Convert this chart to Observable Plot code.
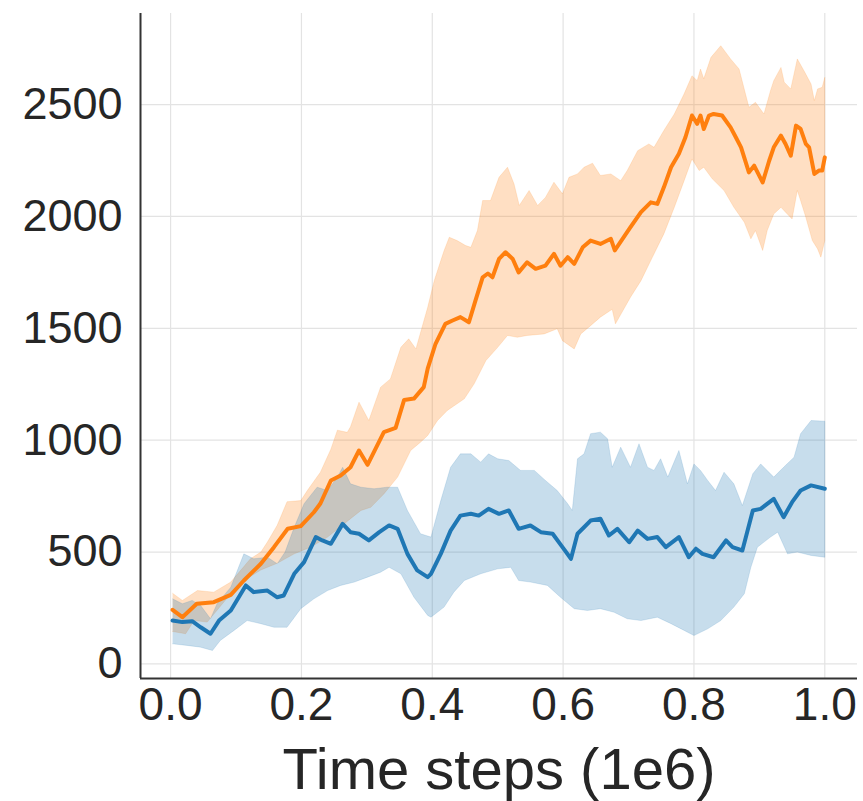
<!DOCTYPE html>
<html>
<head>
<meta charset="utf-8">
<script src="https://cdn.jsdelivr.net/npm/d3@7"></script>
<script src="https://cdn.jsdelivr.net/npm/@observablehq/plot@0.6"></script>
<style>
  html, body { margin: 0; padding: 0; background: #fff; }
  #chart svg { display: block; }
</style>
</head>
<body>
<div id="chart"></div>
<script>
// ---- data ----
const xTicks = [0, 0.2, 0.4, 0.6, 0.8, 1.0];
const yTicks = [0, 500, 1000, 1500, 2000, 2500];
const xLabel = "Time steps (1e6)";

const orangeMean = [[0.003,242],[0.018,209],[0.04,269],[0.066,276],[0.092,309],[0.112,373],[0.138,448],[0.158,522],[0.179,604],[0.199,616],[0.219,678],[0.229,717],[0.245,820],[0.26,842],[0.275,879],[0.288,954],[0.301,890],[0.326,1036],[0.344,1055],[0.357,1180],[0.372,1186],[0.387,1237],[0.393,1320],[0.405,1431],[0.42,1520],[0.431,1535],[0.443,1550],[0.456,1527],[0.466,1624],[0.477,1728],[0.485,1745],[0.492,1728],[0.502,1810],[0.512,1840],[0.523,1810],[0.532,1750],[0.545,1795],[0.558,1766],[0.573,1780],[0.586,1833],[0.596,1780],[0.607,1818],[0.617,1788],[0.63,1862],[0.642,1892],[0.657,1877],[0.673,1900],[0.679,1848],[0.703,1952],[0.719,2019],[0.734,2063],[0.744,2056],[0.754,2130],[0.765,2220],[0.777,2280],[0.787,2354],[0.797,2451],[0.805,2414],[0.81,2451],[0.815,2391],[0.823,2451],[0.83,2458],[0.843,2451],[0.856,2398],[0.864,2354],[0.872,2309],[0.884,2197],[0.892,2227],[0.905,2152],[0.915,2249],[0.922,2309],[0.933,2361],[0.94,2324],[0.948,2272],[0.956,2406],[0.963,2391],[0.971,2324],[0.976,2309],[0.984,2190],[0.991,2205],[0.996,2205],[1.0,2264]];

const orangeHigh = [[0.003,316],[0.018,284],[0.041,328],[0.066,321],[0.092,366],[0.122,470],[0.138,500],[0.148,545],[0.163,620],[0.178,725],[0.199,730],[0.209,775],[0.229,857],[0.245,960],[0.255,1045],[0.27,1035],[0.275,1060],[0.288,1170],[0.303,1088],[0.321,1237],[0.336,1274],[0.352,1415],[0.364,1453],[0.375,1408],[0.393,1594],[0.403,1713],[0.418,1847],[0.426,1907],[0.438,1892],[0.451,1870],[0.459,1862],[0.469,1937],[0.477,2071],[0.489,2071],[0.502,2175],[0.515,2220],[0.525,2145],[0.533,2049],[0.548,2116],[0.561,2049],[0.573,2085],[0.586,2153],[0.599,2101],[0.609,2175],[0.622,2190],[0.632,2220],[0.645,2238],[0.657,2183],[0.673,2190],[0.688,2160],[0.698,2205],[0.714,2294],[0.731,2324],[0.739,2309],[0.754,2384],[0.77,2458],[0.785,2548],[0.797,2629],[0.805,2607],[0.81,2659],[0.815,2615],[0.826,2711],[0.841,2763],[0.856,2704],[0.869,2659],[0.884,2488],[0.894,2510],[0.907,2458],[0.917,2562],[0.922,2607],[0.933,2666],[0.938,2600],[0.948,2570],[0.958,2704],[0.968,2652],[0.979,2592],[0.984,2518],[0.989,2570],[0.996,2577],[1.0,2622]];

const orangeLow = [[0.003,145],[0.023,135],[0.036,194],[0.056,187],[0.071,240],[0.092,314],[0.112,373],[0.138,420],[0.163,450],[0.189,492],[0.214,522],[0.24,567],[0.265,626],[0.291,686],[0.306,700],[0.326,760],[0.347,835],[0.367,954],[0.382,991],[0.393,1021],[0.408,1088],[0.423,1133],[0.449,1185],[0.464,1252],[0.482,1356],[0.5,1415],[0.515,1468],[0.53,1460],[0.545,1468],[0.571,1475],[0.591,1498],[0.599,1445],[0.617,1408],[0.627,1475],[0.642,1512],[0.657,1550],[0.675,1585],[0.68,1520],[0.703,1639],[0.719,1713],[0.734,1803],[0.754,1922],[0.77,2041],[0.785,2160],[0.797,2257],[0.808,2205],[0.815,2220],[0.828,2168],[0.846,2116],[0.861,2041],[0.877,1974],[0.887,1900],[0.894,1937],[0.905,1848],[0.912,1937],[0.922,2011],[0.933,2041],[0.94,2019],[0.95,1989],[0.958,2116],[0.963,2071],[0.971,1996],[0.981,1892],[0.989,1855],[0.994,1818],[1.0,1892]];

const blueMean = [[0.003,194],[0.018,187],[0.033,191],[0.046,164],[0.061,135],[0.074,194],[0.092,239],[0.115,351],[0.127,321],[0.148,328],[0.163,298],[0.173,306],[0.189,403],[0.204,455],[0.222,567],[0.232,552],[0.245,537],[0.263,626],[0.275,589],[0.288,582],[0.303,552],[0.319,589],[0.334,619],[0.347,604],[0.362,492],[0.377,418],[0.393,388],[0.398,403],[0.413,492],[0.428,596],[0.443,663],[0.459,671],[0.471,663],[0.486,693],[0.502,671],[0.517,686],[0.532,604],[0.55,619],[0.566,589],[0.584,582],[0.599,522],[0.612,470],[0.622,582],[0.632,611],[0.642,641],[0.657,649],[0.67,574],[0.683,604],[0.701,544],[0.714,596],[0.729,559],[0.744,567],[0.757,522],[0.777,567],[0.792,477],[0.803,515],[0.813,492],[0.83,477],[0.849,552],[0.859,522],[0.874,507],[0.89,686],[0.902,693],[0.922,738],[0.937,656],[0.95,723],[0.963,775],[0.979,798],[1.0,783]];

const blueHigh = [[0.003,291],[0.018,269],[0.033,284],[0.046,261],[0.061,202],[0.071,269],[0.092,343],[0.112,492],[0.127,470],[0.148,477],[0.163,448],[0.175,500],[0.189,611],[0.204,716],[0.224,790],[0.24,775],[0.255,835],[0.263,879],[0.275,805],[0.291,790],[0.311,783],[0.331,790],[0.347,790],[0.362,686],[0.382,582],[0.398,567],[0.413,730],[0.428,879],[0.443,939],[0.459,939],[0.474,902],[0.486,939],[0.5,917],[0.517,909],[0.535,865],[0.556,865],[0.573,820],[0.591,775],[0.607,716],[0.614,686],[0.622,917],[0.632,939],[0.642,1029],[0.657,1036],[0.668,1006],[0.675,879],[0.688,969],[0.703,879],[0.716,984],[0.729,879],[0.739,865],[0.749,917],[0.76,835],[0.777,954],[0.79,805],[0.8,894],[0.81,865],[0.821,820],[0.833,775],[0.846,857],[0.861,805],[0.874,708],[0.89,850],[0.902,894],[0.922,835],[0.937,879],[0.953,924],[0.963,1029],[0.979,1088],[1.0,1085]];

const blueLow = [[0.003,90],[0.025,83],[0.046,75],[0.064,60],[0.076,105],[0.097,150],[0.117,194],[0.138,180],[0.158,164],[0.178,164],[0.199,247],[0.219,291],[0.24,328],[0.26,351],[0.281,366],[0.301,388],[0.321,410],[0.334,432],[0.352,403],[0.372,298],[0.393,217],[0.398,209],[0.418,254],[0.433,321],[0.449,373],[0.474,403],[0.5,425],[0.52,432],[0.532,373],[0.55,366],[0.576,351],[0.596,298],[0.617,247],[0.637,239],[0.657,247],[0.678,231],[0.698,202],[0.719,194],[0.744,209],[0.765,180],[0.785,150],[0.8,127],[0.821,157],[0.841,194],[0.861,254],[0.877,314],[0.887,432],[0.897,522],[0.917,567],[0.928,589],[0.943,492],[0.958,500],[0.979,485],[1.0,477]];

const xDomain = [-0.046, 1.05];
const yDomain = [-65, 2907];
const ORANGE = "#ff7f0e";
const BLUE = "#1f77b4";

// band polygon: upper edge forward, lower edge backward
const band = (hi, lo) => hi.concat(lo.slice().reverse());

const plot = Plot.plot({
  width: 863,
  height: 801,
  marginLeft: 140,
  marginRight: 6,
  marginTop: 13,
  marginBottom: 123,
  x: { domain: xDomain },
  y: { domain: yDomain },
  style: { fontFamily: "Liberation Sans, Arial, sans-serif", color: "#262626", background: "#fff" },
  marks: [
    Plot.gridX(xTicks, { stroke: "#e3e3e3", strokeOpacity: 1, strokeWidth: 1.2 }),
    Plot.gridY(yTicks, { stroke: "#e3e3e3", strokeOpacity: 1, strokeWidth: 1.2 }),
    Plot.line(band(orangeHigh, orangeLow), { x: d => d[0], y: d => d[1], fill: ORANGE, fillOpacity: 0.25, stroke: ORANGE, strokeOpacity: 0.15, strokeWidth: 1 }),
    Plot.line(band(blueHigh, blueLow), { x: d => d[0], y: d => d[1], fill: BLUE, fillOpacity: 0.25, stroke: BLUE, strokeOpacity: 0.15, strokeWidth: 1 }),
    Plot.line(blueMean, { x: d => d[0], y: d => d[1], stroke: BLUE, strokeWidth: 4 }),
    Plot.line(orangeMean, { x: d => d[0], y: d => d[1], stroke: ORANGE, strokeWidth: 4 }),
    Plot.ruleX([xDomain[0]], { stroke: "#333", strokeWidth: 2 }),
    Plot.ruleY([yDomain[0]], { stroke: "#333", strokeWidth: 2 }),
    Plot.axisY({ ticks: yTicks, tickSize: 0, tickPadding: 18, fontSize: 45, label: null, tickFormat: d => String(d) }),
    Plot.axisX({ ticks: xTicks, tickSize: 0, tickPadding: 9, fontSize: 46, label: null, tickFormat: d3.format(".1f") }),
    Plot.text([xLabel], { text: d => d, frameAnchor: "bottom", lineAnchor: "bottom", dy: 110, fontSize: 58, fill: "#262626" })
  ]
});
document.getElementById("chart").appendChild(plot);
</script>
</body>
</html>
